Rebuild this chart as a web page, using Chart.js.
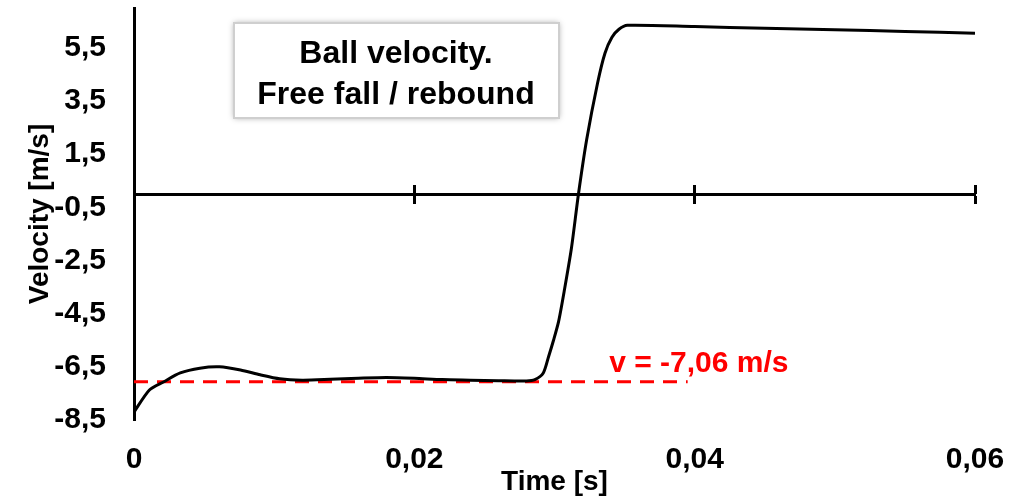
<!DOCTYPE html>
<html>
<head>
<meta charset="utf-8">
<script src="https://cdn.jsdelivr.net/npm/chart.js@4/dist/chart.umd.min.js"></script>
<style>
    html, body { margin: 0; padding: 0; background: #fff; }
    #wrap { width: 1026px; height: 496px; }
</style>
</head>
<body>
<div id="wrap"><canvas id="velChart"></canvas></div>
<script>
// time [s] and velocity [m/s]
var timeValues = [0, 0.0011, 0.0021, 0.0033, 0.0047, 0.0061, 0.0076, 0.009, 0.0104, 0.012,
    0.014, 0.016, 0.018, 0.02, 0.022, 0.024, 0.026, 0.028, 0.0286, 0.0292,
    0.02957, 0.02993, 0.03029, 0.03071, 0.03121, 0.03171, 0.03229, 0.03307, 0.0336, 0.0341,
    0.0346, 0.0352, 0.04, 0.045, 0.05, 0.055, 0.06];
var velocityValues = [-8.2, -7.37, -7.07, -6.73, -6.55, -6.5, -6.62, -6.8, -6.95, -7.0,
    -6.97, -6.93, -6.9, -6.93, -6.98, -7.0, -7.02, -7.03, -6.98, -6.73,
    -6.13, -5.5, -4.8, -3.6, -2.03, 0, 2.03, 4.17, 5.3, 5.9,
    6.2, 6.35, 6.3, 6.24, 6.18, 6.12, 6.05];

// reference line v = -7,06 m/s
var refTimes = [0, 0.0395];
var refVelocity = -7.06;
var refLabel = "v = -7,06 m/s";

var xTicks = [0, 0.02, 0.04, 0.06];
var xAxisTicks = [0.02, 0.04, 0.06];
var yTicks = [-8.5, -6.5, -4.5, -2.5, -0.5, 1.5, 3.5, 5.5];

var titleLines = ["Ball velocity.", "Free fall / rebound"];

var FONT = "'Liberation Sans', Arial, sans-serif";

function comma(v) {
    return String(v).replace('.', ',');
}

function noPad(s) {
    s.paddingTop = 0;
    s.paddingBottom = 0;
    s.paddingLeft = 0;
    s.paddingRight = 0;
}

var overlayPlugin = {
    id: 'overlay',
    afterDraw: function (chart) {
        var ctx = chart.ctx;
        var xs = chart.scales.x, ys = chart.scales.y;

        // title box
        ctx.save();
        ctx.shadowColor = 'rgba(0,0,0,0.35)';
        ctx.shadowBlur = 6;
        ctx.fillStyle = '#fff';
        ctx.fillRect(234, 23, 325, 95);
        ctx.shadowBlur = 0;
        ctx.strokeStyle = '#cfcfcf';
        ctx.lineWidth = 2;
        ctx.strokeRect(234, 23, 325, 95);
        ctx.fillStyle = '#000';
        ctx.font = 'bold 32px ' + FONT;
        ctx.textAlign = 'center';
        ctx.textBaseline = 'middle';
        ctx.fillText(titleLines[0], 396, 54);
        ctx.fillText(titleLines[1], 396, 95);
        ctx.restore();

        // red label
        ctx.save();
        ctx.fillStyle = '#ff0000';
        ctx.font = 'bold 30px ' + FONT;
        ctx.textAlign = 'left';
        ctx.textBaseline = 'alphabetic';
        ctx.fillText(refLabel, xs.getPixelForValue(0.0339), ys.getPixelForValue(-6.69));
        ctx.restore();
    }
};

var ctx = document.getElementById("velChart");
var chart = new Chart(ctx, {
    type: 'line',
    data: {
        datasets: [{
            label: 'Velocity',
            data: timeValues.map(function (t, i) { return { x: t, y: velocityValues[i] }; }),
            borderColor: '#000',
            borderWidth: 3,
            pointRadius: 0,
            tension: 0.25,
            fill: false
        }, {
            label: 'v ref',
            data: refTimes.map(function (t) { return { x: t, y: refVelocity }; }),
            borderColor: '#ff0000',
            borderWidth: 3,
            borderDash: [14, 9],
            pointRadius: 0,
            fill: false
        }]
    },
    options: {
        responsive: true,
        maintainAspectRatio: false,
        animation: false,
        layout: { padding: { left: 0, right: 51, top: 8, bottom: 0 } },
        plugins: {
            legend: { display: false },
            tooltip: { enabled: false }
        },
        scales: {
            x: {
                type: 'linear',
                position: 'bottom',
                min: 0,
                max: 0.06,
                afterBuildTicks: function (s) { s.ticks = xTicks.map(function (v) { return { value: v }; }); },
                afterFit: function (s) { s.height = 76; noPad(s); },
                ticks: {
                    color: '#000',
                    padding: 22,
                    maxRotation: 0,
                    font: { family: FONT, size: 30, weight: 'bold' },
                    callback: function (v) { return comma(v); }
                },
                grid: { drawOnChartArea: false, drawTicks: false },
                border: { display: false },
                title: {
                    display: true,
                    text: 'Time [s]',
                    color: '#000',
                    padding: { top: 0, bottom: 0 },
                    font: { family: FONT, size: 28, weight: 'bold', lineHeight: 1 }
                }
            },
            xAxisDown: {
                type: 'linear',
                position: { y: 0 },
                min: 0,
                max: 0.06,
                afterBuildTicks: function (s) { s.ticks = xAxisTicks.map(function (v) { return { value: v }; }); },
                afterFit: function (s) { s.height = 0; noPad(s); },
                ticks: { display: false },
                grid: { drawOnChartArea: false, drawTicks: true, tickLength: 8, tickWidth: 3, tickColor: '#000' },
                border: { display: true, width: 3, color: '#000' }
            },
            xAxisUp: {
                type: 'linear',
                position: { y: 0 },
                min: 0,
                max: 0.06,
                afterBuildTicks: function (s) { s.ticks = xAxisTicks.map(function (v) { return { value: v }; }); },
                afterFit: function (s) { s.height = 0; noPad(s); },
                ticks: { display: false },
                grid: { drawOnChartArea: false, drawTicks: true, tickLength: -9, tickWidth: 3, tickColor: '#000' },
                border: { display: false }
            },
            y: {
                type: 'linear',
                min: -8.5,
                max: 7,
                afterBuildTicks: function (s) { s.ticks = yTicks.map(function (v) { return { value: v }; }); },
                afterFit: function (s) { s.width = 134; noPad(s); },
                ticks: {
                    color: '#000',
                    padding: 28,
                    font: { family: FONT, size: 30, weight: 'bold' },
                    callback: function (v) { return v.toFixed(1).replace('.', ','); }
                },
                grid: { drawOnChartArea: false, drawTicks: false },
                border: { display: true, width: 3, color: '#000' },
                title: {
                    display: true,
                    text: 'Velocity [m/s]',
                    color: '#000',
                    padding: { top: 26, bottom: 0 },
                    font: { family: FONT, size: 28, weight: 'bold', lineHeight: 1 }
                }
            }
        }
    },
    plugins: [overlayPlugin]
});
</script>
</body>
</html>
